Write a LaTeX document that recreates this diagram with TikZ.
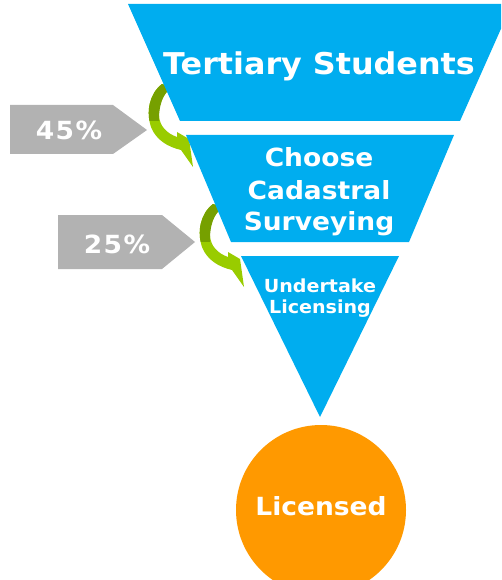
\documentclass[tikz,border=0pt]{standalone}
\usepackage{fontspec}
\setmainfont{DejaVu Sans}[FakeStretch=1.06]
\newfontfamily\pctfont{DejaVu Sans}[FakeStretch=1.06,LetterSpace=6]
\definecolor{fblue}{HTML}{00ADEF}
\definecolor{forange}{HTML}{FF9900}
\definecolor{pgray}{HTML}{B2B2B2}
\definecolor{gdark}{HTML}{76A000}
\definecolor{glight}{HTML}{99CC00}
\begin{document}
\begin{tikzpicture}[x=1pt,y=-1pt,
  lbl/.style={text=white,inner sep=0pt,anchor=base},
  big/.style={font=\bfseries\fontsize{30}{36}\selectfont},
  mid/.style={font=\bfseries\fontsize{25}{30}\selectfont},
  small/.style={font=\bfseries\fontsize{18}{21}\selectfont},
  pct/.style={font=\pctfont\bfseries\fontsize{25}{30}\selectfont},
  greenarrow/.pic={
    \fill[glight]
      (162,84) .. controls (149,94) and (146,112) .. (151,127)
      .. controls (156,140) and (168,147) .. (181,150)
      -- (193,167) -- (189,139) -- (177,132) -- (177,137)
      .. controls (166,133) and (160,126) .. (159,116)
      .. controls (158,104) and (163,94) .. (172,87) -- cycle;
    \begin{scope}
      \clip (100,60) rectangle (200,121);
      \fill[gdark]
        (162,84) .. controls (149,94) and (146,112) .. (151,127)
        -- (159,127)
        .. controls (158,104) and (163,94) .. (172,87) -- cycle;
    \end{scope}
  }]
\clip (0,0) rectangle (501,580);
\useasboundingbox (0,0) rectangle (501,580);

% green curved arrows (behind the funnel)
\pic at (0,0) {greenarrow};
\pic at (51,120) {greenarrow};

% funnel
\fill[fblue] (128,4) -- (512,4) -- (460,121) -- (180,121) -- cycle;
\fill[fblue] (186,135) -- (454,135) -- (409,242) -- (231,242) -- cycle;
\fill[fblue] (241,256) -- (399,256) -- (320,417) -- cycle;

% result circle
\node[circle, fill=forange, minimum size=170pt, inner sep=0pt] (circ) at (321,510) {};

% gray pentagons
\fill[pgray] (10,105) -- (113,105) -- (147,130) -- (113,154) -- (10,154) -- cycle;
\fill[pgray] (58,215) -- (162,215) -- (195,242) -- (162,269) -- (58,269) -- cycle;

% labels
\node[lbl,big] (t1) at (319,75) {Tertiary Students};
\node[lbl,mid] (t2a) at (319,167) {Choose};
\node[lbl,mid] (t2b) at (319,199) {Cadastral};
\node[lbl,mid] (t2c) at (319,230) {Surveying};
\node[lbl,small] (t3a) at (320,292) {Undertake};
\node[lbl,small] (t3b) at (320,313) {Licensing};
\node[lbl,mid] (t4) at (321,515) {Licensed};
\node[lbl,pct] (p1) at (69,140) {45\%};
\node[lbl,pct] (p2) at (117,253) {25\%};
\end{tikzpicture}
\end{document}
